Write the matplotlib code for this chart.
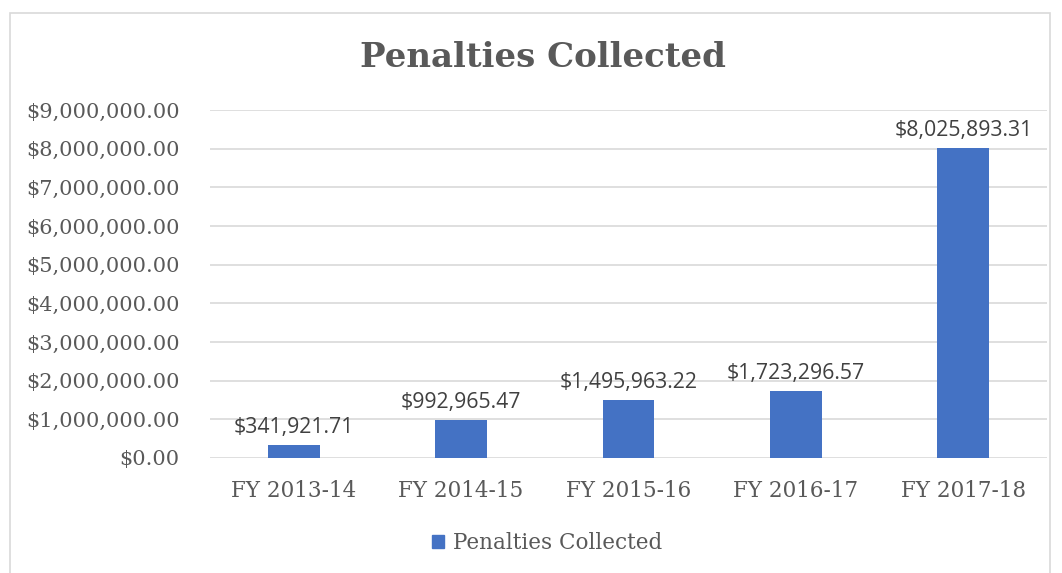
import matplotlib.pyplot as plt
from matplotlib.patches import Rectangle

categories = ['FY 2013-14', 'FY 2014-15', 'FY 2015-16', 'FY 2016-17', 'FY 2017-18']
penalties = [341921.71, 992965.47, 1495963.22, 1723296.57, 8025893.31]
yticks = [0, 1e6, 2e6, 3e6, 4e6, 5e6, 6e6, 7e6, 8e6, 9e6]

text_color = '#595959'
bar_color = '#4472C4'
grid_color = '#d9d9d9'
serif = 'DejaVu Serif'

fig = plt.figure(figsize=(10.62, 5.73), dpi=100)
ax = fig.add_axes([0.1977, 0.2007, 0.7883, 0.6073])

x = list(range(len(categories)))
ax.bar(x, penalties, width=0.31, color=bar_color, zorder=3)
for xi, v in zip(x, penalties):
    ax.annotate('${:,.2f}'.format(v), (xi, v), xytext=(0, 5), textcoords='offset points',
                ha='center', va='bottom', fontsize=15.3, color='#404040', family='Open Sans')

ax.set_xlim(-0.5, len(categories) - 0.5)
ax.set_ylim(0, 9e6)
ax.set_yticks(yticks)
ax.set_yticklabels(['${:,.2f}'.format(t) for t in yticks], family=serif, fontsize=15, color=text_color)
ax.set_xticks(x)
ax.set_xticklabels(categories, family=serif, fontsize=15.5, color=text_color)
ax.tick_params(axis='x', length=0, pad=16)
ax.tick_params(axis='y', length=0, pad=22)
ax.grid(axis='y', color=grid_color, linewidth=1.2, zorder=0)
for s in ax.spines.values():
    s.set_visible(False)

fig.text(0.511, 0.9, 'Penalties Collected', ha='center', va='center', family=serif,
         fontsize=24.5, fontweight='bold', color=text_color)

handle = Rectangle((0, 0), 1, 1, color=bar_color)
fig.legend([handle], ['Penalties Collected'], loc='center', bbox_to_anchor=(0.515, 0.052),
           frameon=False, prop={'family': serif, 'size': 15.5}, labelcolor=text_color,
           handlelength=0.6, handleheight=0.6, handletextpad=0.4)

# chart border
fig.add_artist(Rectangle((10 / 1062, -0.05), 1040 / 1062, 1.05 - 13 / 573, transform=fig.transFigure,
                         fill=False, edgecolor='#d9d9d9', linewidth=1.2))

fig.savefig('out.png', dpi=100, facecolor='white')
